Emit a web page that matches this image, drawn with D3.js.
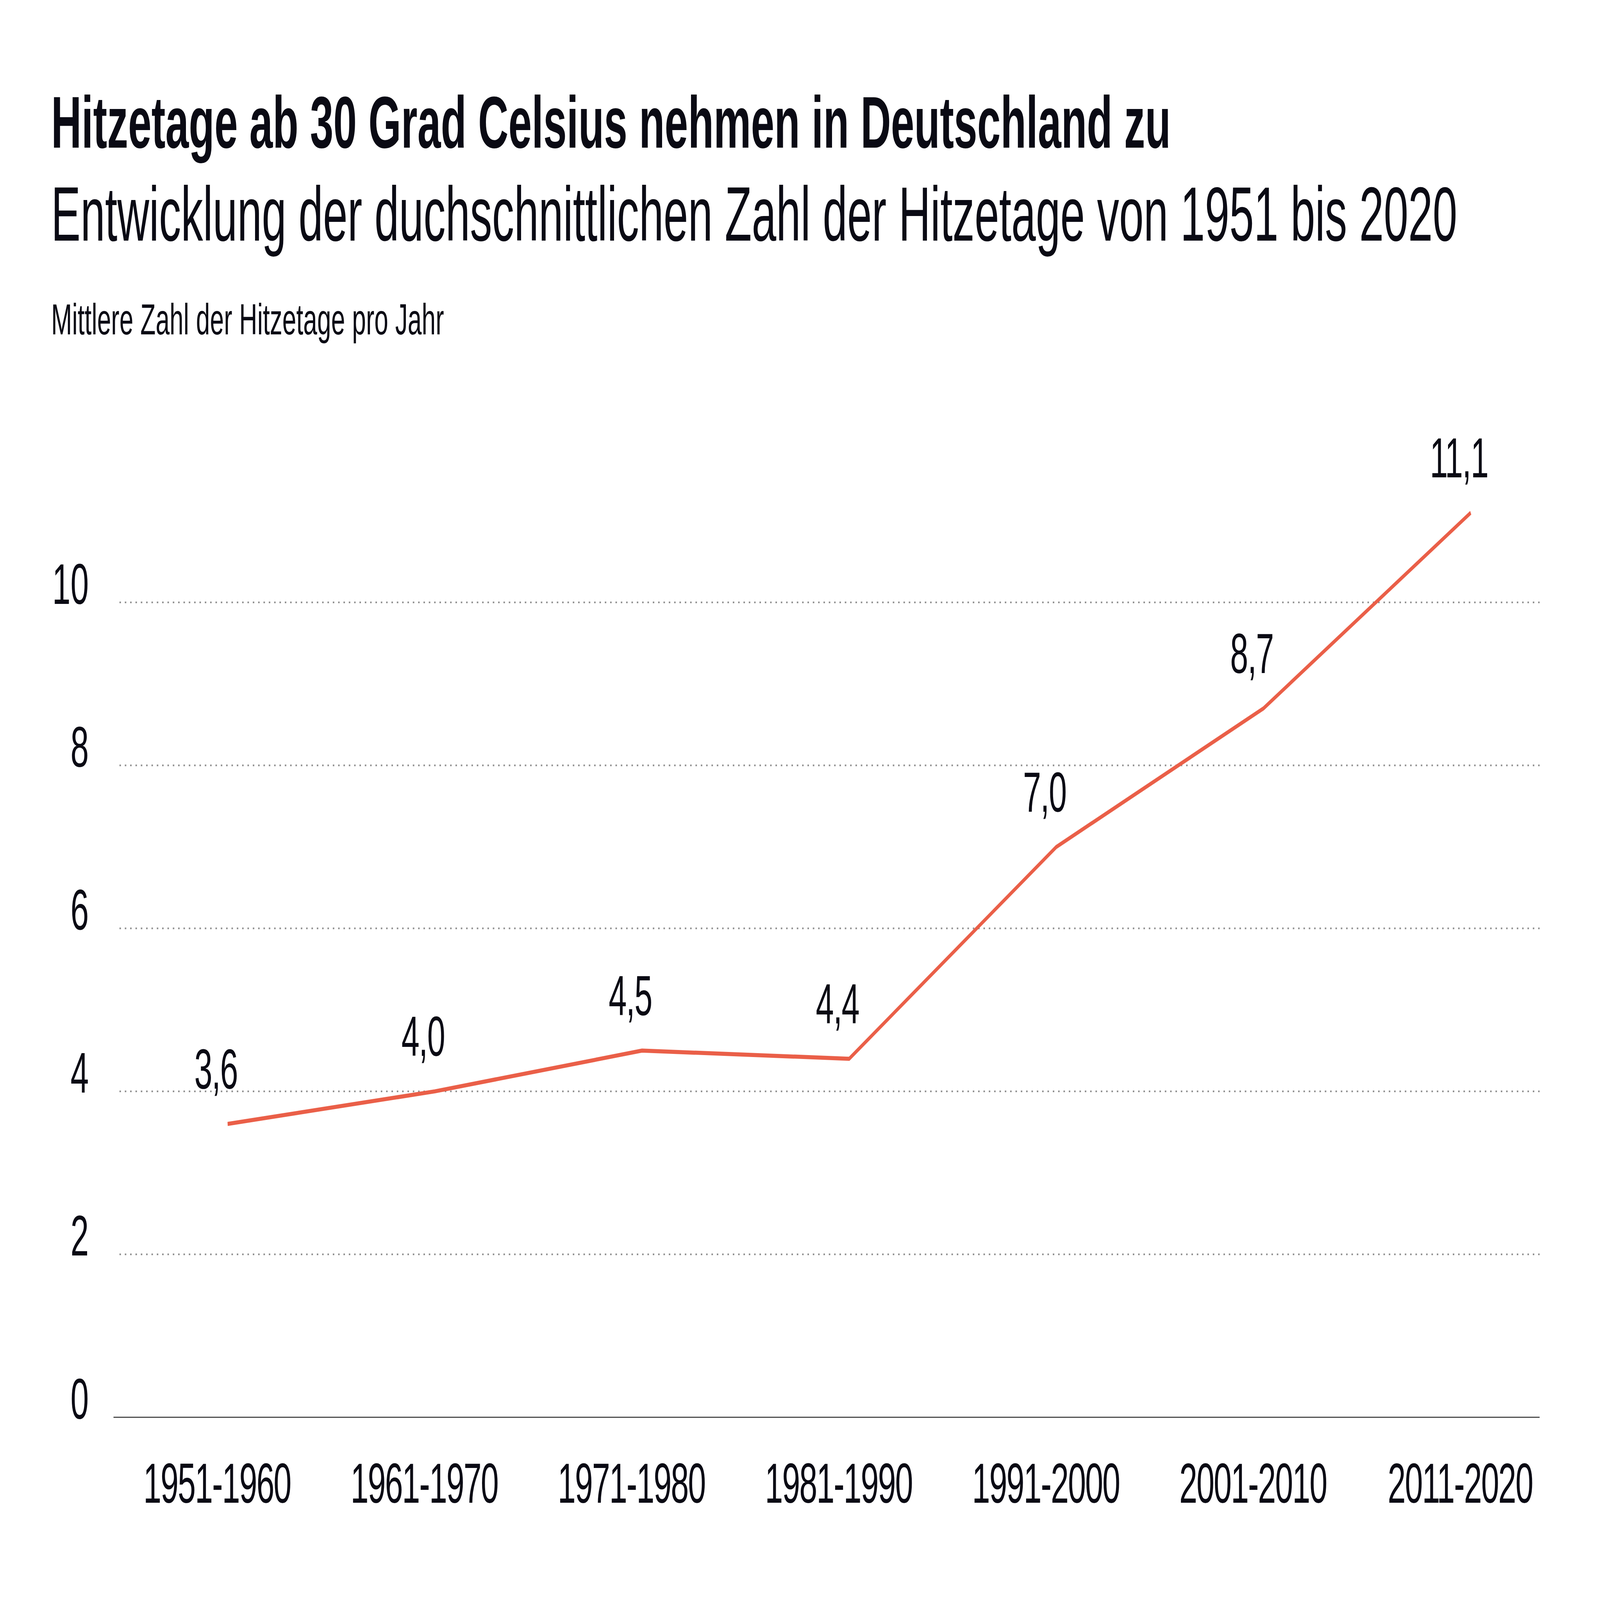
<!DOCTYPE html>
<html>
<head>
<meta charset="utf-8">
<script src="https://cdn.jsdelivr.net/npm/d3@7"></script>
<style>
  html, body { margin: 0; padding: 0; background: #fff; overflow: hidden; }
  #chart svg { display: block; width: 100vw; height: 100vh; }
  text { font-family: "Liberation Sans", Arial, sans-serif; fill: #0a0a14; }
</style>
</head>
<body>
<div id="chart"></div>
<script>
const decades = ['1951-1960', '1961-1970', '1971-1980', '1981-1990', '1991-2000', '2001-2010', '2011-2020'];
const hotDays = [3.6, 4.0, 4.5, 4.4, 7.0, 8.7, 11.1];
const yTicks = [0, 2, 4, 6, 8, 10];

const title = 'Hitzetage ab 30 Grad Celsius nehmen in Deutschland zu';
const subtitle = 'Entwicklung der duchschnittlichen Zahl der Hitzetage von 1951 bis 2020';
const yLabel = 'Mittlere Zahl der Hitzetage pro Jahr';

const W = 7500, H = 4300;
const lineColor = '#ea5f48';
const fmt = (v) => v.toFixed(1).replace('.', ',');

// the drawing is laid out on a 7500x4300 board and fills the window
const svg = d3.select('#chart')
  .append('svg')
  .attr('viewBox', '0 0 ' + W + ' ' + H)
  .attr('preserveAspectRatio', 'none');

// shrink/grow a text so it covers the width seen in the picture
const fitWidth = (sel, target) => {
  const size = parseFloat(sel.attr('font-size'));
  const len = sel.node().getComputedTextLength();
  sel.attr('font-size', size * target / len);
};

svg.append('text')
  .attr('x', 240).attr('y', 397)
  .attr('font-size', 209)
  .attr('font-weight', 700)
  .text(title)
  .call(fitWidth, 5248);

svg.append('text')
  .attr('x', 240).attr('y', 647)
  .attr('font-size', 209)
  .text(subtitle)
  .call(fitWidth, 6591);

svg.append('text')
  .attr('x', 240).attr('y', 899)
  .attr('font-size', 110)
  .text(yLabel)
  .call(fitWidth, 1841);

const x = d3.scalePoint()
  .domain(decades)
  .range([1067, 6894]);

const y = d3.scaleLinear()
  .domain([0, 10])
  .range([3809, 1619]);

// dotted grid lines
svg.append('g')
  .selectAll('line')
  .data(yTicks.filter(d => d > 0))
  .enter().append('line')
    .attr('x1', 560)
    .attr('x2', 7224)
    .attr('y1', d => y(d))
    .attr('y2', d => y(d))
    .attr('stroke', '#8e8e8e')
    .attr('stroke-width', 4.5)
    .attr('stroke-dasharray', '7,18');

// base line
svg.append('line')
  .attr('x1', 532).attr('x2', 7217)
  .attr('y1', y(0)).attr('y2', y(0))
  .attr('stroke', '#4a4a4a')
  .attr('stroke-width', 3);

const yAxis = d3.axisLeft(y)
  .tickValues(yTicks)
  .tickSize(0)
  .tickPadding(0)
  .tickFormat(d3.format('d'));

svg.append('g')
  .attr('transform', 'translate(416,0)')
  .call(yAxis)
  .call(g => g.select('.domain').remove())
  .selectAll('text')
    .attr('font-size', 154)
    .attr('font-family', '"Liberation Sans", Arial, sans-serif')
    .attr('fill', '#0a0a14')
    .attr('dy', 3);

const xAxis = d3.axisBottom(x)
  .tickSize(0)
  .tickPadding(0);

svg.append('g')
  .attr('transform', 'translate(-50,' + y(0) + ')')
  .call(xAxis)
  .call(g => g.select('.domain').remove())
  .selectAll('text')
    .attr('font-size', 152)
    .attr('letter-spacing', -4)
    .attr('font-family', '"Liberation Sans", Arial, sans-serif')
    .attr('fill', '#0a0a14')
    .attr('dy', 230);

const line = d3.line()
  .x((d, i) => x(decades[i]))
  .y(d => y(d));

svg.append('path')
  .datum(hotDays)
  .attr('fill', 'none')
  .attr('stroke', lineColor)
  .attr('stroke-width', 11)
  .attr('stroke-linejoin', 'round')
  .attr('d', line);

svg.append('g')
  .selectAll('text')
  .data(hotDays)
  .enter().append('text')
    .attr('x', (d, i) => x(decades[i]) - 55)
    .attr('y', d => y(d) - 95)
    .attr('text-anchor', 'middle')
    .attr('font-size', 152)
    .attr('letter-spacing', -3)
    .text(d => fmt(d));
</script>
</body>
</html>
